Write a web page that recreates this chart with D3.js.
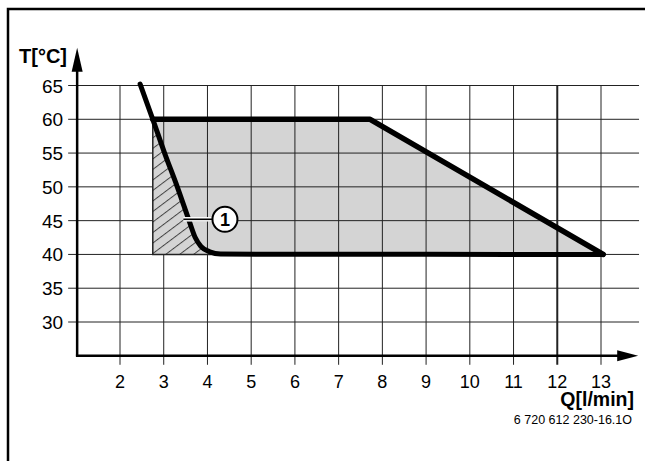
<!DOCTYPE html>
<html>
<head>
<meta charset="utf-8">
<script src="https://cdn.jsdelivr.net/npm/d3@7"></script>
<style>
  body { margin: 0; background: #fff; }
  text { font-family: "Liberation Sans", Arial, sans-serif; }
</style>
</head>
<body>
<div id="chart"></div>
<script>
// tick values
var qTicks = [2, 3, 4, 5, 6, 7, 8, 9, 10, 11, 12, 13];
var tTicks = [30, 35, 40, 45, 50, 55, 60, 65];

// curve (1): flow vs temperature
var curveQ = [2.46, 2.75, 3.02, 3.31, 3.58, 3.72, 3.85, 4.05, 4.3, 13.05];
var curveT = [65.2, 60, 55, 50, 45, 42.5, 41.2, 40.4, 40.05, 40];

// upper limit of the operating range
var limitQ = [2.75, 7.72, 13.05];
var limitT = [60, 60, 40];

// grey operating area
var areaQ = [2.75, 7.72, 13.05, 2.75];
var areaT = [60, 60, 40, 40];

// axis extents
var qAxisStart = 1.02, qAxisEnd = 13.85, qGridEnd = 13.87;
var tAxisStart = 25, tAxisEnd = 70.6;

var width = 645, height = 461;

var x = d3.scaleLinear().domain([2, 13]).range([120, 601]);
var y = d3.scaleLinear().domain([30, 65]).range([322, 85.5]);

var svg = d3.select("#chart").append("svg")
  .attr("width", width)
  .attr("height", height);

var defs = svg.append("defs");
var pat = defs.append("pattern")
  .attr("id", "hatch")
  .attr("patternUnits", "userSpaceOnUse")
  .attr("width", 12)
  .attr("height", 8.4)
  .attr("patternTransform", "rotate(-37)");
pat.append("rect").attr("width", 12).attr("height", 8.4).attr("fill", "#d4d4d4");
pat.append("line")
  .attr("x1", 0).attr("y1", 0.5).attr("x2", 12).attr("y2", 0.5)
  .attr("stroke", "#444").attr("stroke-width", 1);

// frame (top + left)
svg.append("path")
  .attr("d", "M8,461 L8,9 L645,9")
  .attr("fill", "none")
  .attr("stroke", "#000")
  .attr("stroke-width", 2.5);

var zip = function(a, b) { return a.map(function(v, i) { return [v, b[i]]; }); };

var poly = d3.line()
  .x(function(d) { return x(d[0]); })
  .y(function(d) { return y(d[1]); });

var smooth = d3.line()
  .x(function(d) { return x(d[0]); })
  .y(function(d) { return y(d[1]); })
  .curve(d3.curveMonotoneX);

// grey area
svg.append("path")
  .attr("d", poly(zip(areaQ, areaT)) + "Z")
  .attr("fill", "#d4d4d4");

// grid
var grid = svg.append("g");
grid.selectAll(".hgrid")
  .data(tTicks)
  .enter().append("line")
  .attr("x1", x(qAxisStart) - 9)
  .attr("x2", x(qGridEnd))
  .attr("y1", function(d) { return y(d); })
  .attr("y2", function(d) { return y(d); })
  .attr("stroke", "#222")
  .attr("stroke-width", 1);

grid.selectAll(".vgrid")
  .data(qTicks)
  .enter().append("line")
  .attr("x1", function(d) { return x(d); })
  .attr("x2", function(d) { return x(d); })
  .attr("y1", y(65))
  .attr("y2", y(tAxisStart) + 9)
  .attr("stroke", "#222")
  .attr("stroke-width", function(d) { return d === 12 ? 2 : 1; });

// hatched area left of curve (1)
var hatchPts = zip(curveQ, curveT).filter(function(d) { return d[1] <= 60 && d[0] <= 4.3; });
svg.append("path")
  .attr("d", smooth(hatchPts) + "L" + x(2.75) + "," + y(40) + "Z")
  .attr("fill", "url(#hatch)");

svg.append("path")
  .attr("d", poly([[2.75, 60], [2.75, 40], [4.3, 40]]))
  .attr("fill", "none")
  .attr("stroke", "#222")
  .attr("stroke-width", 1.5);

// axes
svg.append("line")
  .attr("x1", x(qAxisStart)).attr("y1", y(tAxisStart))
  .attr("x2", x(qAxisStart)).attr("y2", y(tAxisEnd) + 20)
  .attr("stroke", "#000").attr("stroke-width", 2.5);
svg.append("path")
  .attr("d", "M" + x(qAxisStart) + "," + y(tAxisEnd) +
    " L" + (x(qAxisStart) - 5.5) + "," + (y(tAxisEnd) + 24) +
    " L" + (x(qAxisStart) + 5.5) + "," + (y(tAxisEnd) + 24) + "Z")
  .attr("fill", "#000");

svg.append("line")
  .attr("x1", x(qAxisStart) - 1.25).attr("y1", y(tAxisStart))
  .attr("x2", x(qAxisEnd) - 20).attr("y2", y(tAxisStart))
  .attr("stroke", "#000").attr("stroke-width", 2.5);
svg.append("path")
  .attr("d", "M" + x(qAxisEnd) + "," + y(tAxisStart) +
    " L" + (x(qAxisEnd) - 21) + "," + (y(tAxisStart) - 5.5) +
    " L" + (x(qAxisEnd) - 21) + "," + (y(tAxisStart) + 5.5) + "Z")
  .attr("fill", "#000");

// tick labels
svg.selectAll(".ylab")
  .data(tTicks)
  .enter().append("text")
  .attr("x", x(qAxisStart) - 14)
  .attr("y", function(d) { return y(d) + 7; })
  .attr("text-anchor", "end")
  .attr("font-size", 19)
  .text(function(d) { return d; });

svg.selectAll(".xlab")
  .data(qTicks)
  .enter().append("text")
  .attr("x", function(d) { return x(d); })
  .attr("y", y(tAxisStart) + 32)
  .attr("text-anchor", "middle")
  .attr("font-size", 18)
  .text(function(d) { return d; });

// thick lines
svg.append("path")
  .attr("d", poly(zip(limitQ, limitT)))
  .attr("fill", "none")
  .attr("stroke", "#000")
  .attr("stroke-width", 5.5)
  .attr("stroke-linejoin", "round")
  .attr("stroke-linecap", "round");

svg.append("path")
  .attr("d", smooth(zip(curveQ, curveT)))
  .attr("fill", "none")
  .attr("stroke", "#000")
  .attr("stroke-width", 5)
  .attr("stroke-linejoin", "round")
  .attr("stroke-linecap", "round");

// callout (1)
var cx = x(4.4), cy = y(45.2);
svg.append("line")
  .attr("x1", x(3.45)).attr("x2", cx - 12).attr("y1", cy).attr("y2", cy)
  .attr("stroke", "#fff").attr("stroke-width", 4.5);
svg.append("line")
  .attr("x1", x(3.45)).attr("x2", cx - 12).attr("y1", cy).attr("y2", cy)
  .attr("stroke", "#000").attr("stroke-width", 1.6);
svg.append("circle")
  .attr("cx", cx).attr("cy", cy).attr("r", 12.5)
  .attr("fill", "#fff")
  .attr("stroke", "#000")
  .attr("stroke-width", 2);
svg.append("text")
  .attr("x", cx).attr("y", cy + 6.5)
  .attr("text-anchor", "middle")
  .attr("font-size", 18)
  .attr("font-weight", "bold")
  .text("1");

// axis titles
svg.append("text")
  .attr("x", 67).attr("y", 63)
  .attr("text-anchor", "end")
  .attr("font-size", 20)
  .attr("font-weight", "bold")
  .text("T[°C]");

svg.append("text")
  .attr("x", 634).attr("y", 406)
  .attr("text-anchor", "end")
  .attr("font-size", 19.5)
  .attr("font-weight", "bold")
  .text("Q[l/min]");

svg.append("text")
  .attr("x", 632).attr("y", 424)
  .attr("text-anchor", "end")
  .attr("font-size", 12.5)
  .text("6 720 612 230-16.1O");
</script>
</body>
</html>
